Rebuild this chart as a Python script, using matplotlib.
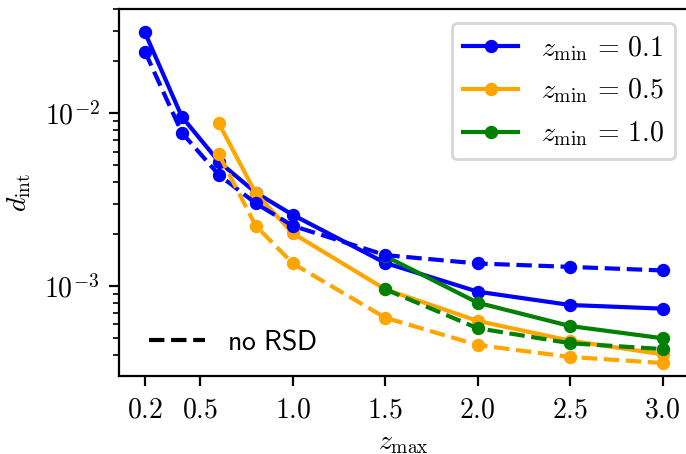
import matplotlib
matplotlib.use("Agg")
import matplotlib.pyplot as plt
from matplotlib.lines import Line2D
from matplotlib.ticker import FixedLocator, FixedFormatter, LogLocator, NullFormatter

plt.rcParams['mathtext.fontset'] = 'cm'
plt.rcParams['font.family'] = ['DejaVu Sans']

# data
z_max_01 = [0.2, 0.4, 0.6, 0.8, 1.0, 1.5, 2.0, 2.5, 3.0]
d_01 = [0.0294, 0.00955, 0.00525, 0.00347, 0.00258, 0.00136, 0.000927, 0.000776, 0.000739]
d_01_norsd = [0.0228, 0.00772, 0.00440, 0.00301, 0.00223, 0.00151, 0.00135, 0.00129, 0.00123]

z_max_05 = [0.6, 0.8, 1.0, 1.5, 2.0, 2.5, 3.0]
d_05 = [0.00875, 0.00344, 0.00202, 0.000957, 0.000627, 0.000482, 0.000402]
d_05_norsd = [0.00579, 0.00223, 0.00135, 0.000655, 0.000455, 0.000388, 0.000358]

z_max_10 = [1.5, 2.0, 2.5, 3.0]
d_10 = [0.00149, 0.000800, 0.000586, 0.000498]
d_10_norsd = [0.000957, 0.000569, 0.000466, 0.000431]

series_labels = [r'$z_{\rm min}\,=\,0.1$', r'$z_{\rm min}\,=\,0.5$', r'$z_{\rm min}\,=\,1.0$']
colors = ['blue', 'orange', 'green']
xticks = [0.2, 0.5, 1.0, 1.5, 2.0, 2.5, 3.0]
yticks = [1e-3, 1e-2]
ytick_labels = [r'$10^{-3}$', r'$10^{-2}$']

FS = 10

fig = plt.figure(figsize=(3.43, 2.27), dpi=200)
ax = fig.add_axes([0.1735, 0.172, 0.830, 0.808])

xs = [z_max_01, z_max_05, z_max_10]
solid = [d_01, d_05, d_10]
dashed = [d_01_norsd, d_05_norsd, d_10_norsd]

handles = []
for x, y, c, lab in zip(xs, solid, colors, series_labels):
    h, = ax.plot(x, y, '-o', color=c, lw=1.5, ms=3.8, label=lab)
    handles.append(h)
for x, y, c in zip(xs, dashed, colors):
    ax.plot(x, y, '--o', color=c, lw=1.5, ms=3.8)

ax.set_yscale('log')
ax.set_xlim(0.06, 3.14)
ax.set_ylim(10**-3.521, 10**-1.396)

ax.xaxis.set_major_locator(FixedLocator(xticks))
ax.xaxis.set_major_formatter(FixedFormatter([r'$%.1f$' % t for t in xticks]))
ax.yaxis.set_major_locator(FixedLocator(yticks))
ax.yaxis.set_major_formatter(FixedFormatter(ytick_labels))
ax.yaxis.set_minor_locator(LogLocator(base=10, subs=range(2, 10)))
ax.yaxis.set_minor_formatter(NullFormatter())
ax.tick_params(labelsize=FS)

ax.set_xlabel(r'$z_{\rm max}$', fontsize=FS, labelpad=1.5)
ax.set_ylabel(r'$d_{\rm int}$', fontsize=FS)

leg1 = ax.legend(handles=handles, loc='upper right', fontsize=FS)
ax.add_artist(leg1)
h2 = Line2D([], [], color='black', ls='--', lw=1.5)
ax.legend(handles=[h2], labels=[r'$\mathsf{no\ RSD}$'], loc='lower left',
          bbox_to_anchor=(0.009, -0.012), frameon=False, fontsize=FS)

fig.savefig('out.png', dpi=200)
